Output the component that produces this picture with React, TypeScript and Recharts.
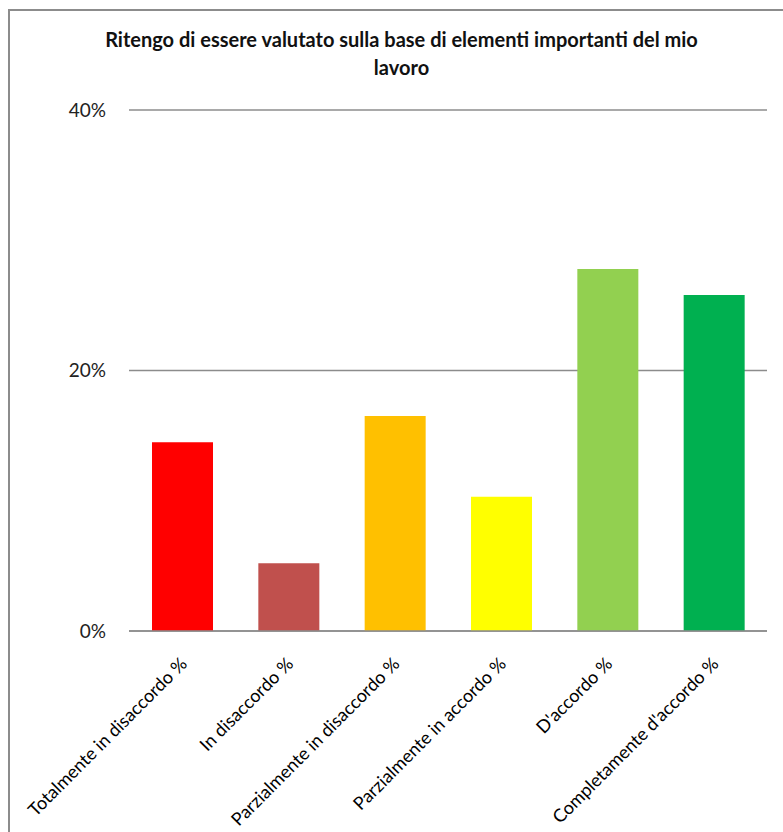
import { Bar, BarChart, CartesianGrid, Cell, XAxis, YAxis } from "recharts";

const categories = [
  "Totalmente in disaccordo %",
  "In disaccordo %",
  "Parzialmente in disaccordo %",
  "Parzialmente in accordo %",
  "D'accordo %",
  "Completamente d'accordo %",
];
const values = [14.5, 5.2, 16.5, 10.3, 27.8, 25.8];
const colors = ["#FF0000", "#C0504D", "#FFC000", "#FFFF00", "#92D050", "#00B050"];
const yTicks = [0, 20, 40];

const titleLines = [
  "Ritengo di essere valutato sulla base di elementi importanti del mio",
  "lavoro",
];

const data = categories.map((name, i) => ({ name, value: values[i] }));

const FONT = "Lato, 'Open Sans', sans-serif";

const RotatedTick = (props: any) => {
  const { x, y, payload } = props;
  return (
    <g transform={`translate(${x + 1},${y + 21})`}>
      <text
        transform="rotate(-45)"
        textAnchor="end"
        dominantBaseline="central"
        fontSize={18}
        fontFamily={FONT}
        fill="#000"
      >
        {payload.value}
      </text>
    </g>
  );
};

export default function App() {
  return (
    <div
      style={{
        position: "fixed",
        left: 8,
        top: 9,
        width: 775,
        height: 823,
        borderTop: "2px solid #8c8c8c",
        borderLeft: "2px solid #8c8c8c",
        background: "#fff",
        fontFamily: FONT,
      }}
    >
      <div
        style={{
          position: "absolute",
          top: 14,
          left: 4,
          width: 775,
          textAlign: "center",
          fontWeight: 700,
          fontSize: 20,
          lineHeight: "28px",
          color: "#111",
        }}
      >
        {titleLines.map((l) => (
          <div key={l}>{l}</div>
        ))}
      </div>
      <BarChart
        width={773}
        height={821}
        data={data}
        margin={{ top: 99, right: 16, left: 59, bottom: 21 }}
      >
        <CartesianGrid
          vertical={false}
          stroke="#8c8c8c"
          strokeWidth={1.5}
        />
        <XAxis
          dataKey="name"
          interval={0}
          height={180}
          tickLine={false}
          axisLine={{ stroke: "#8c8c8c", strokeWidth: 1.5 }}
          tick={<RotatedTick />}
        />
        <YAxis
          domain={[0, 40]}
          ticks={yTicks}
          width={60}
          axisLine={false}
          tickLine={false}
          tickMargin={17}
          tickFormatter={(v: number) => `${v}%`}
          tick={{ fontSize: 19, fill: "#222", fontFamily: FONT }}
        />
        <Bar dataKey="value" barSize={61} isAnimationActive={false}>
          {data.map((d, i) => (
            <Cell key={d.name} fill={colors[i]} />
          ))}
        </Bar>
      </BarChart>
    </div>
  );
}
